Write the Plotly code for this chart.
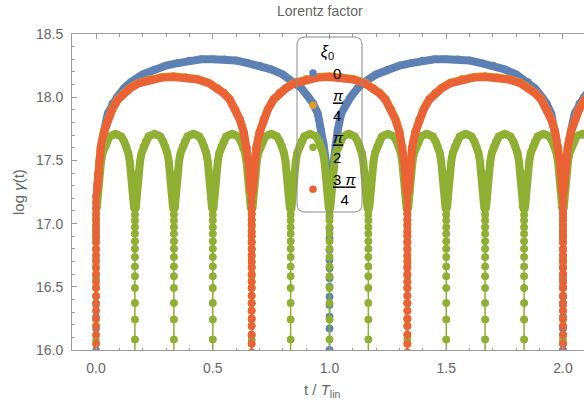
import plotly.graph_objects as go

# ---------------- data ----------------
series_labels = ["0", "<u><i>π</i></u><br>4", "<u><i>π</i></u><br>2", "<u>3 <i>π</i></u><br>\u20024"]

# arch centres (t / T_lin) and half-widths of each arch
blue_centres = [0.5, 1.5, 2.5]
blue_half = 0.5
orange_centres = [0.333, 1.0, 1.667, 2.333]
orange_half = 0.333
green_centres = [0.083, 0.25, 0.417, 0.583, 0.75, 0.917, 1.083, 1.25,
                 1.417, 1.583, 1.75, 1.917, 2.083, 2.25]
green_half = 0.0833
red_centres = [0.333, 1.0, 1.667, 2.333]
red_half = 0.333

# half-arch profile: fraction of half-width away from the arch centre -> log gamma
blue_u = [0.0, 0.1, 0.2, 0.3, 0.4, 0.5, 0.6, 0.7, 0.76, 0.82, 0.86, 0.9,
          0.93, 0.95, 0.97, 0.984, 0.992]
blue_val = [18.30, 18.30, 18.29, 18.27, 18.25, 18.22, 18.18, 18.12, 18.07,
            18.00, 17.95, 17.87, 17.74, 17.62, 17.48, 17.36, 17.28]
blue_cusp = [15.80, 16.00, 16.171, 16.263, 16.356, 16.422, 16.501, 16.567,
             16.646, 16.712, 16.791, 16.884, 16.963, 17.055, 17.15, 17.22]

orange_u = [0.0, 0.15, 0.3, 0.45, 0.56, 0.644, 0.72, 0.794, 0.85, 0.9, 0.94,
            0.96, 0.975, 0.988]
orange_val = [18.165, 18.16, 18.145, 18.115, 18.075, 18.035, 17.985, 17.905,
              17.825, 17.725, 17.605, 17.495, 17.395, 17.255]
orange_cusp = [15.85, 15.98, 16.05, 16.12, 16.19, 16.25, 16.31, 16.37, 16.43,
               16.49, 16.54, 16.60, 16.65, 16.70, 16.75, 16.80, 16.85, 16.90,
               16.94, 16.99, 17.03, 17.08, 17.12, 17.17, 17.21]

green_u = [0.0, 0.15, 0.3, 0.45, 0.56, 0.66, 0.74, 0.81, 0.86, 0.9, 0.93, 0.96]
green_val = [17.71, 17.70, 17.69, 17.65, 17.61, 17.56, 17.49, 17.40, 17.33,
             17.26, 17.19, 17.12]
green_cusp = [15.85, 16.084, 16.242, 16.372, 16.490, 16.583, 16.661, 16.735,
              16.801, 16.861, 16.919, 16.971, 17.024, 17.071, 17.116]

red_u = [0.0, 0.15, 0.3, 0.45, 0.56, 0.644, 0.72, 0.794, 0.85, 0.9, 0.94,
         0.96, 0.975, 0.988]
red_val = [18.16, 18.155, 18.14, 18.11, 18.07, 18.03, 17.98, 17.90, 17.82,
           17.72, 17.60, 17.49, 17.39, 17.25]
red_cusp = [15.85, 15.98, 16.05, 16.12, 16.19, 16.25, 16.31, 16.37, 16.43,
            16.49, 16.54, 16.60, 16.65, 16.70, 16.75, 16.80, 16.85, 16.90,
            16.94, 16.99, 17.03, 17.08, 17.12, 17.17, 17.21]

x_ticks = [0.0, 0.5, 1.0, 1.5, 2.0]
y_ticks = [16.0, 16.5, 17.0, 17.5, 18.0, 18.5]

# ---------------- style ----------------
colors = ["#5E81B5", "#E19C24", "#8FB032", "#EB6235"]
FONT = "Liberation Sans"
GREY = "#666666"
W, H = 584, 412
PL, PR, PT, PB = 72, 584, 34, 350   # plot area in window pixels
ML, MR, MT, MB = PL, W - PR, PT, H - PB


def build(centres, half, u, val, cusp):
    xs, ys, bx, by = [], [], [], []
    for c in centres:
        left, right = c - half, c + half
        arch_x = [c - ui * half for ui in reversed(u)] + [c + ui * half for ui in u[1:]]
        arch_y = list(reversed(val)) + list(val[1:])
        xs += [left] * len(cusp) + arch_x + [right] * len(cusp)
        ys += list(cusp) + arch_y + list(reversed(cusp))
        bx += arch_x + [None]
        by += arch_y + [None]
    return xs, ys, bx, by


series = [
    (blue_centres, blue_half, blue_u, blue_val, blue_cusp),
    (orange_centres, orange_half, orange_u, orange_val, orange_cusp),
    (green_centres, green_half, green_u, green_val, green_cusp),
    (red_centres, red_half, red_u, red_val, red_cusp),
]

fig = go.Figure()
for i, (cen, half, u, val, cusp) in enumerate(series):
    xs, ys, bx, by = build(cen, half, u, val, cusp)
    col = colors[i]
    fig.add_trace(go.Scatter(x=xs, y=ys, mode="lines", line=dict(color=col, width=1.5),
                             showlegend=False, hoverinfo="skip"))
    fig.add_trace(go.Scatter(x=bx, y=by, mode="lines",
                             line=dict(color=col, width=8),
                             showlegend=False, hoverinfo="skip", connectgaps=False))
    fig.add_trace(go.Scatter(x=xs, y=ys, mode="markers", name=series_labels[i],
                             marker=dict(color=col, size=7.5, line=dict(width=0))))

PW, PH = PR - PL, PB - PT


def px(xp):
    return (xp - PL) / PW


def py(yp):
    return (PB - yp) / PH


# rounded legend frame
x0, x1, y0, y1, r = px(297), px(362), py(212), py(37), 8
rx, ry = r / PW, r / PH
frame = (f"M {x0+rx},{y1} L {x1-rx},{y1} Q {x1},{y1} {x1},{y1-ry} "
         f"L {x1},{y0+ry} Q {x1},{y0} {x1-rx},{y0} L {x0+rx},{y0} "
         f"Q {x0},{y0} {x0},{y0+ry} L {x0},{y1-ry} Q {x0},{y1} {x0+rx},{y1} Z")

axis_common = dict(showline=True, linecolor="#9a9a9a", linewidth=1,
                   ticks="inside", ticklen=5, tickcolor="#9a9a9a", tickwidth=1,
                   showgrid=False, zeroline=False,
                   tickfont=dict(family=FONT, size=14, color=GREY),
                   tickformat=".1f")

fig.update_layout(
    width=W, height=H,
    margin=dict(l=ML, r=MR, t=MT, b=MB, pad=0),
    plot_bgcolor="white", paper_bgcolor="white",
    font=dict(family=FONT, color=GREY),
    showlegend=True,
    xaxis=dict(range=[-0.103, 2.09], tickvals=x_ticks, mirror="ticks",
               ticklabelstandoff=5,
               minor=dict(ticks="inside", ticklen=2.5, dtick=0.1, tickcolor="#9a9a9a",
                          showgrid=False),
               **axis_common),
    yaxis=dict(range=[16.0, 18.5], tickvals=y_ticks, mirror=False,
               ticklabelstandoff=5,
               minor=dict(ticks="inside", ticklen=2.5, dtick=0.1, tickcolor="#9a9a9a",
                          showgrid=False),
               **axis_common),
    legend=dict(x=px(293), y=py(36), xanchor="left", yanchor="top",
                bgcolor="rgba(0,0,0,0)", borderwidth=0,
                font=dict(family=FONT, size=15, color="black"),
                title=dict(text="<i>ξ</i><sub>0</sub>", side="top center",
                           font=dict(family=FONT, size=16, color="black")),
                tracegroupgap=0, valign="middle"),
    shapes=[dict(type="path", path=frame, xref="paper", yref="paper",
                 line=dict(color="#8a8a8a", width=1), layer="above")],
    annotations=[
        dict(text="Lorentz factor", x=px(320), y=py(11), xref="paper", yref="paper",
             showarrow=False, xanchor="center", yanchor="middle",
             font=dict(family=FONT, size=14, color=GREY)),
        dict(text="t / <i>T</i><sub>lin</sub>", x=px(322), y=py(390), xref="paper", yref="paper",
             showarrow=False, xanchor="center", yanchor="middle",
             font=dict(family=FONT, size=15, color=GREY)),
        dict(text="log <i>γ</i>(t)", x=px(18), y=py(192), xref="paper", yref="paper",
             showarrow=False, xanchor="center", yanchor="middle", textangle=-90,
             font=dict(family=FONT, size=15, color=GREY)),
    ],
)

fig.write_html("out.html", config={"displayModeBar": False},
               post_script="document.body.style.margin='0px';")
